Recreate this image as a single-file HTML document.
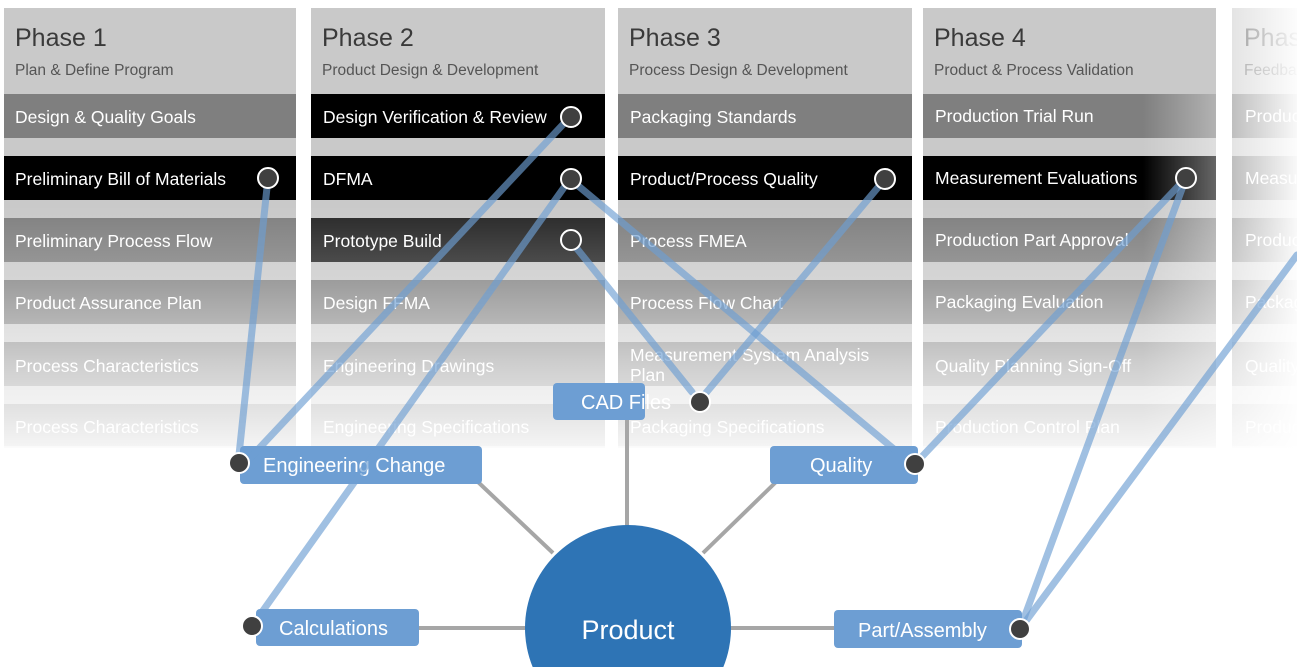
<!DOCTYPE html>
<html><head><meta charset="utf-8"><style>
html,body{margin:0;padding:0;background:#fff;width:1297px;height:667px;overflow:hidden}
svg{display:block;overflow:hidden}
text{font-family:"Liberation Sans",sans-serif}
</style></head><body>
<svg width="1297" height="667" viewBox="0 0 1297 667" xmlns="http://www.w3.org/2000/svg">
<defs>
<linearGradient id="fadeV" x1="0" y1="0" x2="0" y2="1">
<stop offset="0" stop-color="#fff" stop-opacity="0"/>
<stop offset="0.3" stop-color="#fff" stop-opacity="0.22"/>
<stop offset="0.65" stop-color="#fff" stop-opacity="0.62"/>
<stop offset="1" stop-color="#fff" stop-opacity="0.93"/>
</linearGradient>
<linearGradient id="fadeH" x1="0" y1="0" x2="1" y2="0">
<stop offset="0" stop-color="#fff" stop-opacity="0.5"/>
<stop offset="1" stop-color="#fff" stop-opacity="0.95"/>
</linearGradient>
<linearGradient id="p4fade" x1="0" y1="0" x2="1" y2="0">
<stop offset="0" stop-color="#fff" stop-opacity="0"/>
<stop offset="0.75" stop-color="#fff" stop-opacity="0"/>
<stop offset="1" stop-color="#fff" stop-opacity="0.4"/>
</linearGradient>
</defs>

<g>
<rect x="4" y="8" width="292" height="440" fill="#c9c9c9"/>
<rect x="311" y="8" width="294" height="440" fill="#c9c9c9"/>
<rect x="618" y="8" width="294" height="440" fill="#c9c9c9"/>
<rect x="923" y="8" width="293" height="440" fill="#c9c9c9"/>
<rect x="1232" y="8" width="65" height="440" fill="#c9c9c9"/>
</g>
<g fill="#7f7f7f">
<rect x="4" y="94" width="292" height="44"/><rect x="4" y="218" width="292" height="44"/><rect x="4" y="280" width="292" height="44"/><rect x="4" y="342" width="292" height="44"/><rect x="4" y="404" width="292" height="42"/>
<rect x="311" y="280" width="294" height="44"/><rect x="311" y="342" width="294" height="44"/><rect x="311" y="404" width="294" height="42"/>
<rect x="618" y="94" width="294" height="44"/><rect x="618" y="218" width="294" height="44"/><rect x="618" y="280" width="294" height="44"/><rect x="618" y="342" width="294" height="44"/><rect x="618" y="404" width="294" height="42"/>
<rect x="923" y="94" width="293" height="44"/><rect x="923" y="218" width="293" height="44"/><rect x="923" y="280" width="293" height="44"/><rect x="923" y="342" width="293" height="44"/><rect x="923" y="404" width="293" height="42"/>
<rect x="1232" y="94" width="65" height="44"/><rect x="1232" y="156" width="65" height="44"/><rect x="1232" y="218" width="65" height="44"/><rect x="1232" y="280" width="65" height="44"/><rect x="1232" y="342" width="65" height="44"/><rect x="1232" y="404" width="65" height="42"/>
</g>
<g fill="#000">
<rect x="4" y="156" width="292" height="44"/>
<rect x="311" y="94" width="294" height="44"/>
<rect x="311" y="156" width="294" height="44"/>
<rect x="618" y="156" width="294" height="44"/>
<rect x="923" y="156" width="293" height="44"/>
</g>
<rect x="311" y="218" width="294" height="44" fill="#262626"/>
<rect x="923" y="94" width="293" height="352" fill="url(#p4fade)"/>

<g fill="#3a3a3a">
<text x="15" y="46" font-size="25">Phase 1</text>
<text x="322" y="46" font-size="25">Phase 2</text>
<text x="629" y="46" font-size="25">Phase 3</text>
<text x="934" y="46" font-size="25">Phase 4</text>
<text x="1244" y="46" font-size="25">Phase 5</text>
</g>
<g fill="#555" font-size="15.5">
<text x="15" y="75">Plan &amp; Define Program</text>
<text x="322" y="75">Product Design &amp; Development</text>
<text x="629" y="75">Process Design &amp; Development</text>
<text x="934" y="75">Product &amp; Process Validation</text>
<text x="1244" y="75">Feedback</text>
</g>
<g fill="#fff" font-size="17.5">
<text x="15" y="123">Design &amp; Quality Goals</text>
<text x="15" y="185">Preliminary Bill of Materials</text>
<text x="15" y="247">Preliminary Process Flow</text>
<text x="15" y="309">Product Assurance Plan</text>
<text x="15" y="372">Process Characteristics</text>
<text x="15" y="433">Process Characteristics</text>
<text x="323" y="123">Design Verification &amp; Review</text>
<text x="323" y="185">DFMA</text>
<text x="323" y="247">Prototype Build</text>
<text x="323" y="309">Design FFMA</text>
<text x="323" y="372">Engineering Drawings</text>
<text x="323" y="433">Engineering Specifications</text>
<text x="630" y="123">Packaging Standards</text>
<text x="630" y="185">Product/Process Quality</text>
<text x="630" y="247">Process FMEA</text>
<text x="630" y="309">Process Flow Chart</text>
<text x="630" y="361">Measurement System Analysis</text>
<text x="630" y="381">Plan</text>
<text x="630" y="433">Packaging Specifications</text>
<text x="935" y="122">Production Trial Run</text>
<text x="935" y="184">Measurement Evaluations</text>
<text x="935" y="246">Production Part Approval</text>
<text x="935" y="308">Packaging Evaluation</text>
<text x="935" y="372">Quality Planning Sign-Off</text>
<text x="935" y="433">Production Control Plan</text>
<text x="1245" y="122">Product</text>
<text x="1245" y="184">Measurement</text>
<text x="1245" y="246">Product</text>
<text x="1245" y="308">Packaging</text>
<text x="1245" y="372">Quality</text>
<text x="1245" y="433">Product</text>
</g>
<rect x="0" y="205" width="1297" height="245" fill="url(#fadeV)"/>
<rect x="1232" y="0" width="65" height="450" fill="url(#fadeH)"/>

<g stroke="#a6a6a6" stroke-width="4">
<line x1="627" y1="419" x2="627" y2="526"/>
<line x1="478" y1="482" x2="553" y2="553"/>
<line x1="776" y1="482" x2="703" y2="553"/>
<line x1="419" y1="628" x2="527" y2="628"/>
<line x1="729" y1="628" x2="836" y2="628"/>
</g>
<circle cx="628" cy="628" r="103" fill="#2e74b5"/>
<text x="628" y="639" font-size="27" fill="#fff" text-anchor="middle">Product</text>

<g fill="#6d9ed3">
<rect x="553" y="383" width="92" height="37" rx="4"/>
<rect x="240" y="446" width="242" height="38" rx="4"/>
<rect x="770" y="446" width="148" height="38" rx="4"/>
<rect x="256" y="609" width="163" height="37" rx="4"/>
<rect x="834" y="610" width="188" height="38" rx="4"/>
</g>
<g fill="#fff" font-size="20">
<text x="581" y="409">CAD Files</text>
<text x="263" y="472">Engineering Change</text>
<text x="810" y="472">Quality</text>
<text x="279" y="635">Calculations</text>
<text x="858" y="637">Part/Assembly</text>
</g>

<g stroke="#6d9ed3" stroke-width="7" stroke-opacity="0.65" stroke-linecap="round">
<line x1="268" y1="178" x2="239" y2="455"/>
<line x1="570" y1="117" x2="250" y2="458"/>
<line x1="570" y1="179" x2="262" y2="612"/>
<line x1="570" y1="179" x2="895" y2="450"/>
<line x1="570" y1="240" x2="692" y2="392"/>
<line x1="885" y1="179" x2="700" y2="400"/>
<line x1="1186" y1="178" x2="915" y2="464"/>
<line x1="1186" y1="178" x2="1020" y2="629"/>
<line x1="1297" y1="255" x2="1020" y2="629"/>
</g>

<g fill="#404040" stroke="#fff" stroke-width="2">
<circle cx="268" cy="178" r="10"/>
<circle cx="571" cy="117" r="10"/>
<circle cx="571" cy="179" r="10"/>
<circle cx="571" cy="240" r="10"/>
<circle cx="885" cy="179" r="10"/>
<circle cx="1186" cy="178" r="10"/>
<circle cx="700" cy="402" r="10"/>
<circle cx="239" cy="463" r="10"/>
<circle cx="915" cy="464" r="10"/>
<circle cx="252" cy="626" r="10"/>
<circle cx="1020" cy="629" r="10"/>
</g>
</svg>
</body></html>
